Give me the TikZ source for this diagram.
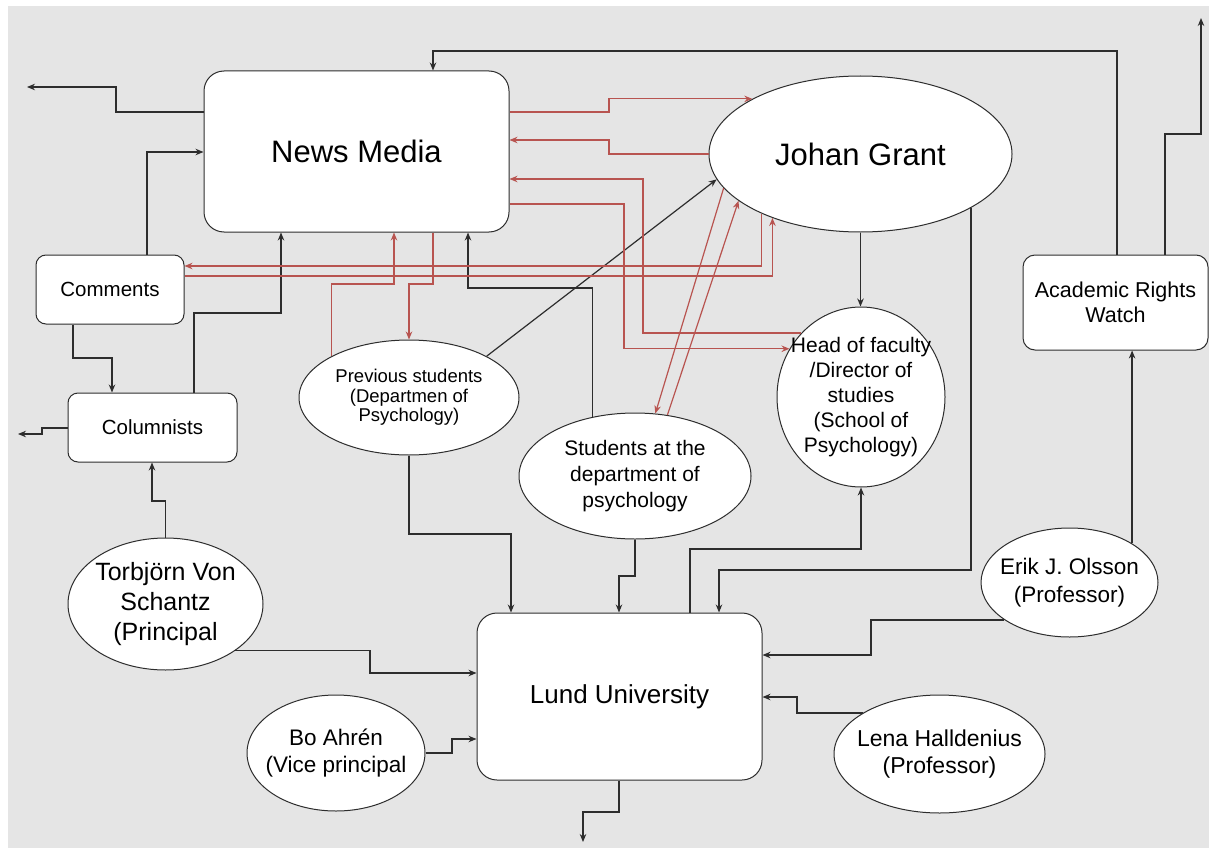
\documentclass[tikz,border=0pt]{standalone}
\usepackage{fontspec}
\setmainfont{Liberation Sans}
\usetikzlibrary{arrows.meta,shapes.geometric}
\definecolor{bggray}{RGB}{229,229,229}
\definecolor{linkred}{RGB}{184,84,80}
\definecolor{edgegray}{RGB}{45,45,45}
\begin{document}
\begin{tikzpicture}[x=1pt,y=-1pt,
  box/.style={draw=edgegray,fill=white,rounded corners=#1,line width=1pt,inner sep=0pt},
  box/.default=10pt,
  ell/.style={draw=edgegray,fill=white,ellipse,line width=1pt,inner sep=0pt},
  txt/.style 2 args={align=center,font=\fontsize{#1}{#2}\selectfont},
  arr/.style={draw=edgegray,line width=1.2pt,-{Stealth[length=8pt,width=6.5pt]}},
  rarr/.style={draw=linkred,line width=1.2pt,-{Stealth[length=8pt,width=6.5pt]}}]
\useasboundingbox (0,0) rectangle (1209,848);
\fill[white] (0,0) rectangle (1209,848);
\fill[bggray] (8,6) rectangle (1209,848);

% actors
\node[box=20pt,minimum width=305pt,minimum height=161pt,txt={31}{37}] (nm) at (356.5,151.5) {News Media};
\node[ell,minimum width=303pt,minimum height=156pt,txt={31}{37}] (jg) at (860.5,154) {Johan Grant};
\node[box,minimum width=148pt,minimum height=69pt,txt={20.5}{25}] (cm) at (110,289.5) {Comments};
\node[box,minimum width=169pt,minimum height=69pt,txt={20.5}{25}] (col) at (152.5,427.5) {Columnists};
\node[box=12pt,minimum width=185pt,minimum height=95pt,txt={21.5}{25}] (arw) at (1115.5,302.5) {Academic Rights\\Watch};
\node[box=20pt,minimum width=285pt,minimum height=167pt,txt={26}{31}] (lu) at (619.5,696.5) {Lund University};
\node[ell,minimum width=220pt,minimum height=115pt] (ps) at (409,397.5) {};
\node[ell,minimum width=232pt,minimum height=126pt] (st) at (635,476) {};
\node[ell,minimum width=168pt,minimum height=180pt] (hof) at (861,397) {};
\node[ell,minimum width=177pt,minimum height=109pt] (eo) at (1069.5,582.5) {};
\node[ell,minimum width=211pt,minimum height=118pt] (lh) at (939.5,754) {};
\node[ell,minimum width=195pt,minimum height=132pt] (tvs) at (165.5,604) {};
\node[ell,minimum width=178pt,minimum height=116pt] (ba) at (336,753) {};

\node[txt={18.5}{19.5}] at (ps) {Previous students\\(Departmen of\\Psychology)};
\node[txt={21}{26}] at (st) {Students at the\\department of\\psychology};
\node[txt={21}{25}] at (hof) {Head of faculty\\/Director of\\studies\\(School of\\Psychology)};
\node[txt={22.5}{28}] at (eo) {Erik J. Olsson\\(Professor)};
\node[txt={23}{26.5}] at (lh) {Lena Halldenius\\(Professor)};
\node[txt={25}{30}] at (tvs) {Torbjörn Von\\Schantz\\(Principal};
\node[txt={22.5}{27}] at (ba) {Bo Ahrén\\(Vice principal};

\coordinate (nmout) at (27,87);
\coordinate (colout) at (18,434);
\coordinate (luout) at (583,842);
\coordinate (arwout) at (1201,18);

% black links
\draw[arr] (nm.west |- 0,112) -| (116,87) -- (nmout);
\draw[arr] (cm.north -| 147,0) |- (nm.west |- 0,152);
\draw[arr] (col.north -| 194,0) |- (281,313) -- (nm.south -| 281,0);
\draw[arr] (cm.south -| 73,0) |- (112,358) -- (col.north -| 112,0);
\draw[arr] (col.west |- 0,428) -- (42,428) |- (colout);
\draw[arr] (tvs.north) |- (152,501) -- (col.south -| 152,0);
\draw[arr] (tvs.-34) -| (370,673) -- (lu.west |- 0,673);
\draw[arr] (ba.east) -| (452,739) -- (lu.west |- 0,739);
\draw[arr] (lu.south -| 619,0) |- (583,812) -- (luout);
\draw[arr] (ps.south) |- (511,534) -- (lu.north -| 511,0);
\draw[arr] (st.south) |- (619,576) -- (lu.north -| 619,0);
\draw[arr] (lu.north -| 690,0) |- (861,549) -- (hof.south);
\draw[arr] (jg.-26.4) |- (719,570) -- (lu.north -| 719,0);
\draw[arr] (eo.210) -| (871,655) -- (lu.east |- 0,655);
\draw[arr] (lh.152) -| (797,697) -- (lu.east |- 0,697);
\draw[arr] (eo.32) -- (eo.32 |- arw.south);
\draw[arr] (arw.north -| 1165,0) |- (1201,134) -- (arwout);
\draw[arr] (arw.north -| 1117,0) |- (433,51) -- (nm.north -| 433,0);
\draw[arr] (jg.south) -- (jg.south |- hof.north);
\draw[arr] (ps.28) -- (jg.190);
\draw[arr] (st.126) |- (468,288) -- (nm.south -| 468,0);

% red links
\draw[rarr] (nm.east |- 0,112) -- (609,112) |- (jg.153);
\draw[rarr] (jg.west) -| (609,140) -- (nm.east |- 0,140);
\draw[rarr] (hof.133) -| (643,179) -- (nm.east |- 0,179);
\draw[rarr] (nm.east |- 0,204) -- (624,204) |- (hof.146);
\draw[rarr] (jg.211) |- (cm.east |- 0,266);
\draw[rarr] (cm.east |- 0,276) -| (jg.216);
\draw[rarr] (ps.152) |- (394,284) -- (nm.south -| 394,0);
\draw[rarr] (nm.south -| 433,0) |- (409,284) -- (ps.north);
\draw[rarr] (jg.194.6) -- (st.72.4);
\draw[rarr] (st.62.7) -- (jg.201);
\end{tikzpicture}
\end{document}
